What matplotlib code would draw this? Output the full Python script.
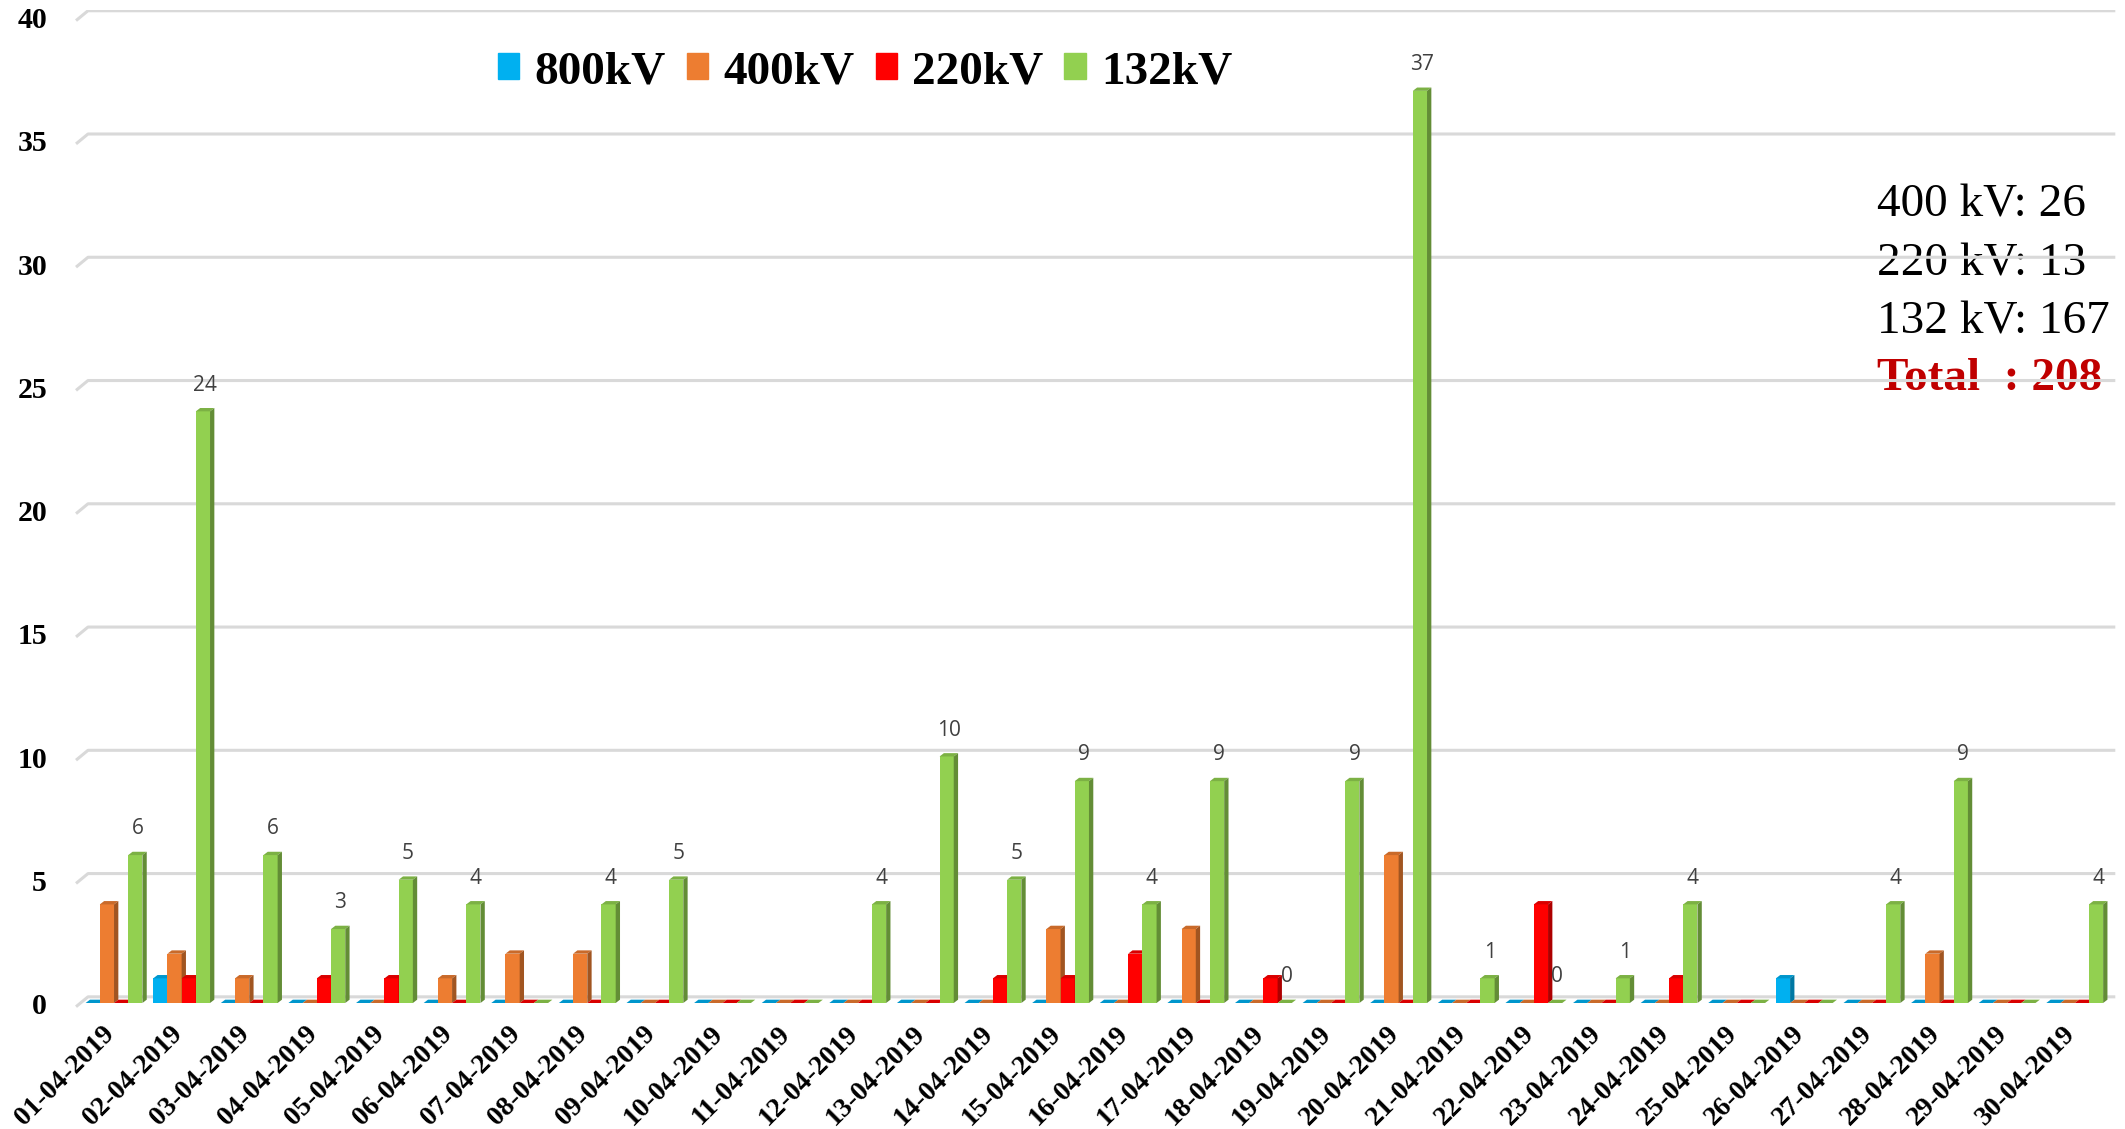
import numpy as np
import matplotlib.pyplot as plt
from matplotlib.patches import Polygon, Rectangle
from matplotlib.colors import to_rgb

dates = ['%02d-04-2019' % d for d in range(1, 31)]
kv800 = [0, 1, 0, 0, 0, 0, 0, 0, 0, 0, 0, 0, 0, 0, 0,
         0, 0, 0, 0, 0, 0, 0, 0, 0, 0, 1, 0, 0, 0, 0]
kv400 = [4, 2, 1, 0, 0, 1, 2, 2, 0, 0, 0, 0, 0, 0, 3,
         0, 3, 0, 0, 6, 0, 0, 0, 0, 0, 0, 0, 2, 0, 0]
kv220 = [0, 1, 0, 1, 1, 0, 0, 0, 0, 0, 0, 0, 0, 1, 1,
         2, 0, 1, 0, 0, 0, 4, 0, 1, 0, 0, 0, 0, 0, 0]
kv132 = [6, 24, 6, 3, 5, 4, 0, 4, 5, 0, 0, 4, 10, 5, 9,
         4, 9, 0, 9, 37, 1, 0, 1, 4, 0, 0, 4, 9, 0, 4]
# zero-valued 132kV days that still carry a value label
zero_labels = ['18-04-2019', '22-04-2019']

names = ['800kV', '400kV', '220kV', '132kV']
colors = ['#00B0F0', '#ED7D31', '#FF0000', '#92D050']
series = [kv800, kv400, kv220, kv132]

W, H = 2125, 1129
fig = plt.figure(figsize=(W / 100, H / 100), dpi=100)
ax = fig.add_axes([70 / W, 1 - 1010 / H, 2048 / W, 1000 / H])
ax.set_xlim(-0.651, 29.64)
ax.set_ylim(-0.284, 40.28)
ax.axis('off')

x = np.arange(len(dates))
bw = 0.21           # bar front width
dx, dy = 0.064, 0.135  # depth of the 3d faces

# gridlines with a slanted left end (floor perspective)
for v in range(0, 41, 5):
    ax.plot([-0.562, -0.385, 29.6], [v - 0.15, v + 0.25, v + 0.25],
            color='#D9D9D9', lw=2.2, zorder=1, solid_capstyle='butt')
    ax.text(-0.991, v - 0.15, str(v), ha='right', va='center',
            fontsize=21.5, fontweight='bold', family='Liberation Serif')

for k, (vals, c) in enumerate(zip(series, colors)):
    xs = x + (k - 1.5) * bw
    rgb = np.array(to_rgb(c))
    top_c, side_c = rgb * 0.85, rgb * 0.68
    ax.bar(xs, vals, width=bw, color=c, zorder=2 + k)
    for xi, v in zip(xs, vals):
        x0, x1 = xi - bw / 2, xi + bw / 2
        ax.add_patch(Polygon([(x0, v), (x1, v), (x1 + dx, v + dy), (x0 + dx, v + dy)],
                             closed=True, color=top_c, lw=0, zorder=2 + k))
        ax.add_patch(Polygon([(x1, 0), (x1 + dx, dy), (x1 + dx, v + dy), (x1, v)],
                             closed=True, color=side_c, lw=0, zorder=2 + k))

# value labels on the 132kV bars
for xi, v, d in zip(x + 1.5 * bw, kv132, dates):
    if v > 0 or d in zero_labels:
        ax.text(xi + dx / 2, v + 1.06, str(v), ha='center', va='center',
                fontsize=15, color='#404040', family='Open Sans', zorder=10)

# date labels
for xi, d in zip(x, dates):
    ax.text(xi - 0.05, -1.1, d, rotation=45, ha='right', va='center',
            rotation_mode='anchor', fontsize=20, fontweight='bold',
            family='Liberation Serif', clip_on=False)

handles = [Rectangle((0, 0), 1, 1, color=c) for c in colors]
ax.legend(handles, names, ncol=4, loc='center',
          bbox_to_anchor=(865 / W, 1 - 72 / H), bbox_transform=fig.transFigure,
          frameon=False, prop=dict(family='Liberation Serif', weight='bold', size=34),
          handlelength=0.45, handleheight=0.45, handletextpad=0.32,
          columnspacing=0.45)

# monthly totals, drawn under the gridlines
tot = [('400 kV: %d' % sum(kv400), 205), ('220 kV: %d' % sum(kv220), 264),
       ('132 kV: %d' % sum(kv132), 322)]
for s, yp in tot:
    ax.text(1877 / W, 1 - yp / H, s, transform=fig.transFigure, ha='left',
            va='center', fontsize=34, family='Liberation Serif', zorder=0.5)
grand = sum(kv800) + sum(kv400) + sum(kv220) + sum(kv132)
ax.text(1877 / W, 1 - 379 / H, 'Total  : %d' % grand, transform=fig.transFigure,
        ha='left', va='center', fontsize=34, fontweight='bold', color='#C00000',
        family='Liberation Serif', zorder=0.5)

fig.savefig('out.png', dpi=100)
